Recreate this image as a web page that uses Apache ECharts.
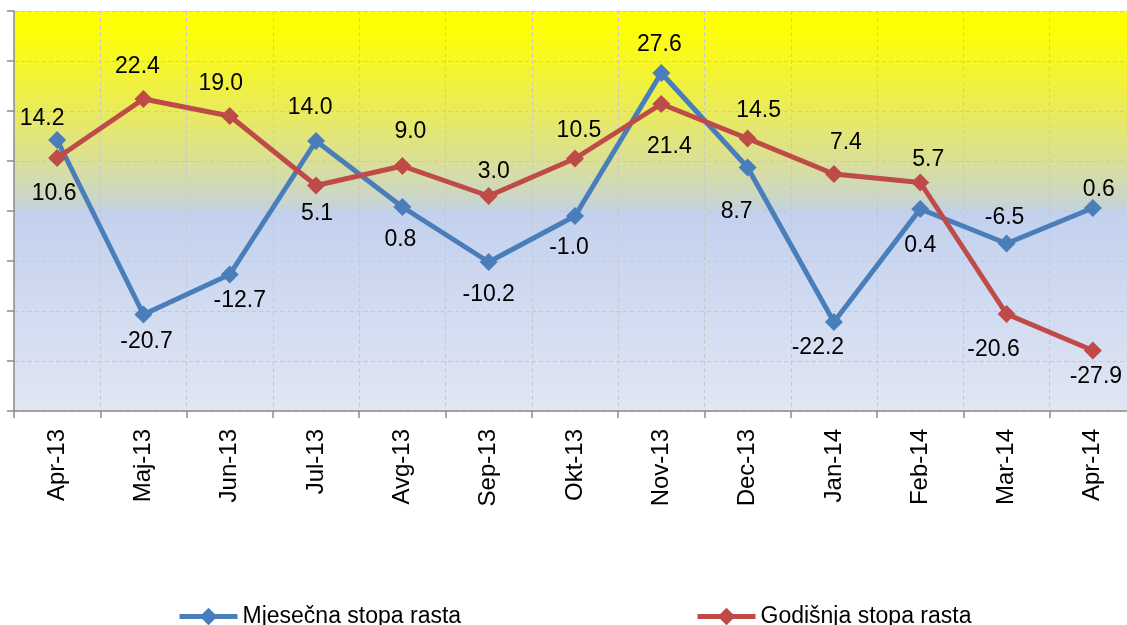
<!DOCTYPE html>
<html>
<head>
<meta charset="utf-8">
<script src="https://cdn.jsdelivr.net/npm/echarts@6/dist/echarts.min.js"></script>
<style>
html,body{margin:0;padding:0;background:#fff;}
#chart{width:1127px;height:625px;}
</style>
</head>
<body>
<div id="chart"></div>
<script>
const categories = ['Apr-13','Maj-13','Jun-13','Jul-13','Avg-13','Sep-13','Okt-13','Nov-13','Dec-13','Jan-14','Feb-14','Mar-14','Apr-14'];
const monthlyName = 'Mjesečna stopa rasta';
const annualName = 'Godišnja stopa rasta';
const monthlyValues = [14.2, -20.7, -12.7, 14.0, 0.8, -10.2, -1.0, 27.6, 8.7, -22.2, 0.4, -6.5, 0.6];
const annualValues = [10.6, 22.4, 19.0, 5.1, 9.0, 3.0, 10.5, 21.4, 14.5, 7.4, 5.7, -20.6, -27.9];

// label placement (layout only)
const monthlyLabelOffsets = [[-15,-21],[3,27],[10,26],[-6,-33],[-2,33],[0,33],[-6,32],[-2,-28],[-11,44],[-16,26],[0,37],[-2,-26],[6,-18]];
const annualLabelOffsets = [[-3,36],[-6,-32],[-9,-32],[1,28],[8,-34],[5,-24],[4,-28],[8,43],[11,-28],[12,-31],[8,-23],[-13,36],[3,26]];

const FONT = "'Liberation Sans', Arial, sans-serif";

function buildData(values, offsets) {
  return values.map((v, i) => ({
    value: v,
    label: { offset: offsets[i] }
  }));
}

const chart = echarts.init(document.getElementById('chart'), null, {renderer: 'canvas'});

const labelStyle = {
  show: true,
  position: 'inside',
  color: '#000',
  fontSize: 23,
  fontFamily: FONT,
  formatter: p => p.value.toFixed(1)
};

const legendCommon = {
  top: 600,
  itemWidth: 58, itemHeight: 22, itemGap: 5,
  lineStyle: {width: 5},
  textStyle: {fontSize: 23, fontFamily: FONT, color: '#000'}
};

chart.setOption({
  animation: false,
  backgroundColor: '#fff',
  grid: {
    left: 14, top: 11, width: 1122, height: 400,
    outerBoundsMode: 'none',
    containLabel: false,
    show: true,
    borderWidth: 0,
    backgroundColor: {
      type: 'linear', x: 0, y: 0, x2: 0, y2: 1,
      colorStops: [
        {offset: 0, color: '#FFFF00'},
        {offset: 0.05, color: '#FEFE06'},
        {offset: 0.15, color: '#F4F430'},
        {offset: 0.27, color: '#E7E965'},
        {offset: 0.38, color: '#DADF98'},
        {offset: 0.46, color: '#CCD7C4'},
        {offset: 0.497, color: '#C4D2DC'},
        {offset: 0.5, color: '#C3D1EE'},
        {offset: 1, color: '#E0E6F3'}
      ]
    }
  },
  legend: [
    Object.assign({data: [monthlyName], left: 172}, legendCommon),
    Object.assign({data: [annualName], left: 690}, legendCommon)
  ],
  xAxis: {
    type: 'category',
    data: categories,
    boundaryGap: true,
    axisLine: {onZero: false, lineStyle: {color: '#8C8C8C', width: 1.5}},
    axisTick: {show: true, length: 7, lineStyle: {color: '#8C8C8C', width: 1.5}},
    axisLabel: {rotate: 90, margin: 18, fontSize: 24, fontFamily: FONT, color: '#000', interval: 0},
    splitLine: {show: true, lineStyle: {color: '#C8C8C8', type: [4, 3], width: 1}}
  },
  yAxis: {
    type: 'value',
    min: -40, max: 40, interval: 10,
    axisLine: {show: true, lineStyle: {color: '#8C8C8C', width: 1.5}},
    axisTick: {show: true, length: 7, lineStyle: {color: '#8C8C8C', width: 1.5}},
    axisLabel: {show: false},
    splitLine: {show: true, lineStyle: {color: '#C8C8C8', type: [4, 3], width: 1}}
  },
  series: [
    {
      name: monthlyName,
      type: 'line',
      data: buildData(monthlyValues, monthlyLabelOffsets),
      symbol: 'diamond',
      symbolSize: 18,
      lineStyle: {color: '#4A7EBB', width: 5},
      itemStyle: {color: '#4A7EBB'},
      label: labelStyle,
      z: 2
    },
    {
      name: annualName,
      type: 'line',
      data: buildData(annualValues, annualLabelOffsets),
      symbol: 'diamond',
      symbolSize: 18,
      lineStyle: {color: '#BE4B48', width: 5},
      itemStyle: {color: '#BE4B48'},
      label: labelStyle,
      z: 3
    }
  ]
});
</script>
</body>
</html>
